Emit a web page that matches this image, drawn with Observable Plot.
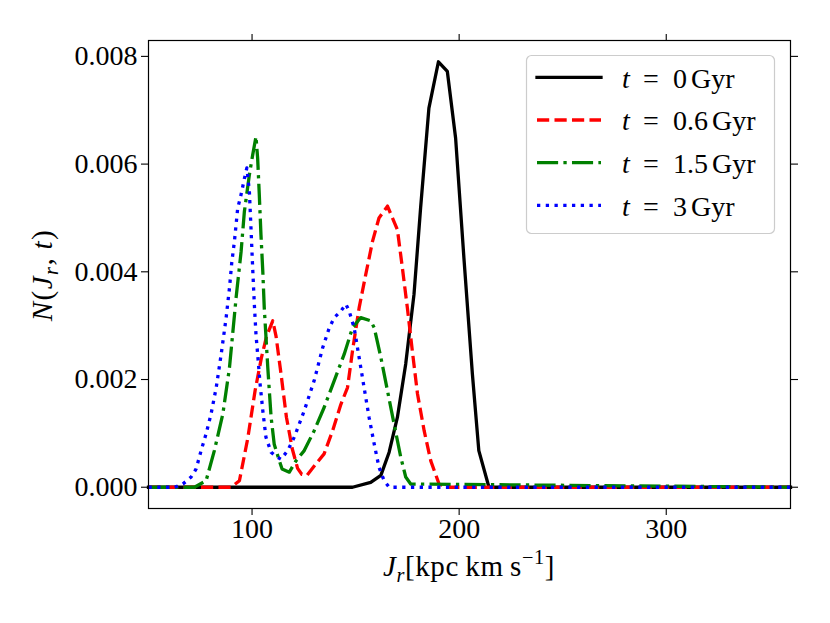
<!DOCTYPE html>
<html><head><meta charset="utf-8">
<script src="https://cdn.jsdelivr.net/npm/d3@7"></script>
<script src="https://cdn.jsdelivr.net/npm/@observablehq/plot@0.6"></script>
<style>
body{margin:0;background:#fff;}
#chart svg{display:block;}
</style>
</head><body><div id="chart"></div>
<script>
// ---- data ----
const xTicks = [100, 200, 300];
const yTicks = [0, 0.002, 0.004, 0.006, 0.008];
const seriesValues = ["0", "0.6", "1.5", "3"];
const seriesColors = ["black", "red", "green", "blue"];

const J0 = [50, 148.5, 157.3, 162.2, 166.2, 170.2, 174.2, 178.2, 181.4, 185.4, 190.0, 194.3, 198.3, 202.3, 206.4, 209.5, 214.4, 360];
const N0 = [0, 0, 0.00009, 0.00022, 0.00065, 0.0013, 0.00229, 0.00358, 0.00519, 0.00704, 0.0079, 0.00772, 0.00648, 0.00426, 0.0021, 0.00068, 0, 0];

const J1 = [50, 89.9, 93.9, 97.9, 101.5, 104.5, 107.0, 110.0, 111.6, 114.0, 116.6, 119.5, 122.0, 124.0, 126.5, 130.8, 134.8, 138.9, 142.9, 146.1, 148.5, 151.7, 154.9, 158.2, 161.3, 165.4, 170.2, 172.6, 175.0, 177.4, 179.9, 183.1, 186.3, 190.3, 194.3, 360];
const N1 = [0, 0, 0.00012, 0.0009, 0.0018, 0.0024, 0.0028, 0.00309, 0.0028, 0.0021, 0.0013, 0.0007, 0.00035, 0.00024, 0.00022, 0.00043, 0.00062, 0.00105, 0.00154, 0.00185, 0.00253, 0.00333, 0.00395, 0.00457, 0.005, 0.00522, 0.00478, 0.00407, 0.00333, 0.00253, 0.00173, 0.00105, 0.00049, 0.00006, 0, 0];

const J2 = [50, 72.2, 77.8, 81.8, 85.9, 89.1, 92.3, 94.7, 96.3, 98.7, 100.3, 101.9, 102.7, 103.5, 104.3, 105.2, 105.9, 107.6, 109.2, 110.7, 113.2, 114.5, 118.0, 121.2, 125.2, 130.0, 134.8, 139.7, 144.5, 148.5, 152.5, 157.3, 159.0, 162.2, 165.4, 168.6, 171.8, 174.2, 176.6, 360];
const N2 = [0, 0, 0.00012, 0.00068, 0.00136, 0.00222, 0.00352, 0.00437, 0.00512, 0.0058, 0.00617, 0.00651, 0.00611, 0.00543, 0.00469, 0.004, 0.00333, 0.00222, 0.0013, 0.0008, 0.00049, 0.00034, 0.00028, 0.00049, 0.00068, 0.00105, 0.00148, 0.00198, 0.00247, 0.00296, 0.00315, 0.00309, 0.00296, 0.00241, 0.00179, 0.00117, 0.00056, 0.00019, 0.00006, 0];

const J3 = [50, 62.6, 66.6, 70.6, 73.0, 75.4, 77.8, 80.2, 82.7, 85.1, 87.5, 89.1, 90.2, 91.5, 93.1, 94.4, 96.3, 97.5, 98.7, 99.5, 100.3, 101.1, 101.9, 102.7, 103.9, 105.2, 106.7, 109.2, 111.6, 114.0, 117.2, 120.4, 125.2, 130.0, 134.1, 137.3, 139.7, 142.9, 145.3, 146.9, 149.3, 151.7, 154.1, 156.5, 159.0, 161.3, 163.8, 166.2, 360];
const N3 = [0, 0, 0.00006, 0.00019, 0.00034, 0.00068, 0.00099, 0.00136, 0.00185, 0.00247, 0.00315, 0.0037, 0.00417, 0.00457, 0.00519, 0.00538, 0.00573, 0.00593, 0.0055, 0.0048, 0.00407, 0.0034, 0.00284, 0.00247, 0.00191, 0.00142, 0.00093, 0.00065, 0.00057, 0.00052, 0.00068, 0.00093, 0.00142, 0.00198, 0.00259, 0.00296, 0.00315, 0.00327, 0.0034, 0.00327, 0.00296, 0.00241, 0.00185, 0.0013, 0.0008, 0.00037, 0.00012, 0, 0];

// ---- build tables ----
const Js = [J0, J1, J2, J3];
const Ns = [N0, N1, N2, N3];
const tables = Js.map((J, k) => J.map((j, i) => ({J: j, N: Ns[k][i], s: seriesValues[k]})));

const LW = 3.3;
const dashes = [null, `${3.7*LW},${1.6*LW}`, `${6.4*LW},${1.6*LW},${1*LW},${1.6*LW}`, `${1*LW},${1.65*LW}`];
const FONT = "Liberation Serif";
const FS = 28;   // tick labels and legend
const LFS = 29;  // axis labels

const W = 830, H = 623;
const mL = 148, mR = 40, mT = 40, mB = 115;

const lineMarks = tables.map((t, k) => Plot.line(t, {
  x: "J", y: "N", stroke: seriesColors[k], strokeWidth: LW,
  strokeDasharray: dashes[k], strokeLinecap: k === 0 ? "square" : "butt", strokeLinejoin: "round"
}));

const plot = Plot.plot({
  width: W, height: H,
  marginLeft: mL, marginRight: mR, marginTop: mT, marginBottom: mB,
  style: {fontFamily: FONT, fontSize: FS + "px", color: "black", background: "white", overflow: "visible"},
  x: {domain: [50, 360]},
  y: {domain: [-0.000395, 0.008295]},
  marks: [
    ...lineMarks,
    Plot.frame({stroke: "black", strokeWidth: 1.2}),
    Plot.axisX({anchor: "bottom", ticks: xTicks, tickSize: 7, tickPadding: 3, tickFormat: d3.format("d"), label: null, fontSize: FS, strokeWidth: 1.1}),
    Plot.axisX({anchor: "top", ticks: xTicks, tickSize: 7, tickFormat: () => "", label: null, strokeWidth: 1.1}),
    Plot.axisY({anchor: "left", ticks: yTicks, tickSize: 7, tickPadding: 4, tickFormat: d3.format(".3f"), label: null, fontSize: FS, strokeWidth: 1.1}),
    Plot.axisY({anchor: "right", ticks: yTicks, tickSize: 7, tickFormat: () => "", label: null, strokeWidth: 1.1})
  ]
});
document.getElementById("chart").appendChild(plot);

const svg = d3.select(plot);
const cx = (mL + (W - mR)) / 2, cy = (mT + (H - mB)) / 2;

// x label: J_r [kpc km s^-1]
const xl = svg.append("text").attr("x", cx).attr("y", 576).attr("text-anchor", "middle")
  .attr("font-family", FONT).attr("font-size", LFS).attr("fill", "black").attr("letter-spacing", 0.6);
xl.append("tspan").attr("font-style", "italic").text("J");
xl.append("tspan").attr("font-style", "italic").attr("font-size", LFS*0.7).attr("dy", 6).text("r");
xl.append("tspan").attr("dy", -6).text("[kpc\u2009km\u2009s");
xl.append("tspan").attr("font-size", LFS*0.7).attr("dy", -12).text("\u22121");
xl.append("tspan").attr("dy", 12).text("]");

// y label: N(J_r, t)
const yl = svg.append("text").attr("transform", `translate(52,${cy + 1}) rotate(-90)`).attr("text-anchor", "middle")
  .attr("font-family", FONT).attr("font-size", LFS).attr("fill", "black").attr("letter-spacing", 1.5);
yl.append("tspan").attr("font-style", "italic").text("N");
yl.append("tspan").text("(");
yl.append("tspan").attr("font-style", "italic").text("J");
yl.append("tspan").attr("font-style", "italic").attr("font-size", LFS*0.7).attr("dy", 6).text("r");
yl.append("tspan").attr("dy", -6).text(",\u2009");
yl.append("tspan").attr("font-style", "italic").text("t");
yl.append("tspan").text(")");

// legend
const lg = svg.append("g").attr("text-anchor", "start");
lg.append("rect").attr("x", 526.5).attr("y", 55.5).attr("width", 248).attr("height", 178).attr("rx", 5)
  .attr("fill", "white").attr("fill-opacity", 0.8).attr("stroke", "#cccccc").attr("stroke-width", 1.2);
const rowY = [77.3, 120, 162.7, 205.3];
const textWidth = s => Array.from(s).reduce((w, c) => w + (c === "." ? 0.25 : 0.5) * FS, 0);
seriesValues.forEach((v, k) => {
  const y = rowY[k];
  lg.append("line").attr("x1", 537).attr("x2", 601).attr("y1", y).attr("y2", y)
    .attr("stroke", seriesColors[k]).attr("stroke-width", LW)
    .attr("stroke-dasharray", dashes[k]).attr("stroke-linecap", k === 0 ? "square" : "butt");
  const base = y + 10.4;
  const put = (x, txt, italic) => lg.append("text").attr("x", x).attr("y", base)
    .attr("text-anchor", "start")
    .attr("font-family", FONT).attr("font-size", FS).attr("fill", "black")
    .attr("font-style", italic ? "italic" : "normal").text(txt);
  put(622, "t", true);
  put(643, "=", false);
  put(673, v, false);
  put(673 + textWidth(v) + 4, "Gyr", false);
});
</script>
</body></html>
